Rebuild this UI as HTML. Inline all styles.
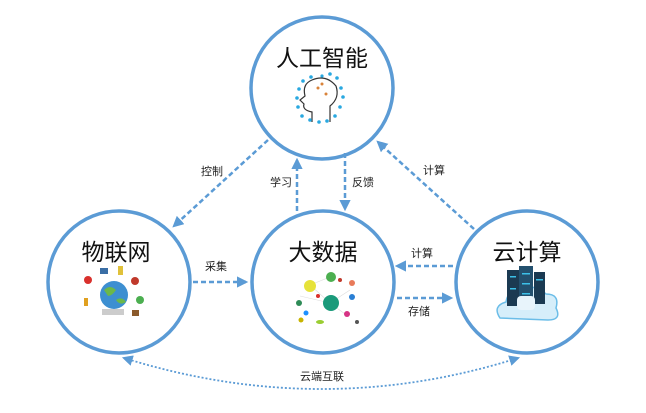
<!DOCTYPE html>
<html><head><meta charset="utf-8"><style>
html,body{margin:0;padding:0;background:#fff;}
svg{display:block;font-family:"Liberation Sans","Noto Sans CJK SC",sans-serif;}
</style></head><body>
<svg width="646" height="413" viewBox="0 0 646 413" xmlns="http://www.w3.org/2000/svg">
<defs>
<marker id="ah" viewBox="0 0 10 10" refX="8" refY="5" markerWidth="4.5" markerHeight="4.5" orient="auto-start-reverse"><path d="M0,0 L10,5 L0,10 z" fill="#5b9bd5"/></marker>
<marker id="ah2" viewBox="0 0 10 10" refX="8" refY="5" markerWidth="6" markerHeight="6" orient="auto-start-reverse"><path d="M0,0 L10,5 L0,10 z" fill="#5b9bd5"/></marker>
</defs>
<g fill="#fff" stroke="#5b9bd5" stroke-width="3.5">
<circle cx="322" cy="88" r="71"/>
<circle cx="119" cy="282" r="71"/>
<circle cx="323" cy="282" r="71"/>
<circle cx="527" cy="282" r="71"/>
</g>
<g stroke="#5b9bd5" stroke-width="2.5" stroke-dasharray="5,3" fill="none" marker-end="url(#ah)">
<line x1="268" y1="140" x2="174" y2="226"/>
<line x1="297" y1="211" x2="297" y2="160"/>
<line x1="345" y1="153" x2="345" y2="209"/>
<line x1="474" y1="229" x2="378" y2="142"/>
<line x1="193" y1="282" x2="246" y2="282"/>
<line x1="453" y1="266" x2="397" y2="266"/>
<line x1="397" y1="298" x2="451" y2="298"/>
</g>
<path d="M124,358 Q322,420 518,358" stroke="#5b9bd5" stroke-width="1.8" stroke-dasharray="2,2" fill="none" marker-start="url(#ah2)" marker-end="url(#ah2)"/>
<g font-size="23" fill="#111" text-anchor="middle">
<text x="322" y="66">人工智能</text>
<text x="116" y="260">物联网</text>
<text x="323" y="260">大数据</text>
<text x="527" y="260">云计算</text>
</g>
<g font-size="11" fill="#222" text-anchor="middle">
<text x="212" y="175">控制</text>
<text x="281" y="186">学习</text>
<text x="363" y="186">反馈</text>
<text x="434" y="174">计算</text>
<text x="216" y="270">采集</text>
<text x="422" y="257">计算</text>
<text x="419" y="315">存储</text>
<text x="322" y="380">云端互联</text>
</g>
<!-- AI icon -->
<g fill="none" stroke="#333" stroke-width="1.2">
<path d="M312,122 L312,112 Q302,110 304,104 L300,100 L305,96 Q302,84 312,80 Q326,74 336,86 Q340,98 330,106 L330,122"/>
</g>
<g fill="#d9833a"><circle cx="318" cy="88" r="1.5"/><circle cx="326" cy="94" r="1.5"/><circle cx="322" cy="84" r="1.5"/></g>
<g fill="#29a8e0">
<circle cx="322" cy="76" r="1.6"/><circle cx="330" cy="74" r="1.8"/><circle cx="337" cy="78" r="1.8"/><circle cx="341" cy="88" r="1.8"/><circle cx="343" cy="97" r="1.8"/><circle cx="340" cy="107" r="1.8"/><circle cx="335" cy="116" r="1.8"/><circle cx="327" cy="121" r="1.8"/><circle cx="319" cy="122" r="1.8"/><circle cx="310" cy="120" r="1.8"/><circle cx="302" cy="116" r="1.8"/><circle cx="298" cy="107" r="1.8"/><circle cx="297" cy="98" r="1.8"/><circle cx="299" cy="89" r="1.8"/><circle cx="303" cy="81" r="1.8"/><circle cx="311" cy="77" r="1.8"/>
</g>
<!-- IoT icon -->
<circle cx="114" cy="295" r="14" fill="#3d8fd1"/>
<path d="M104,290 q6,-6 12,0 q-4,6 -8,6z M116,300 q6,-4 10,2 q-6,4 -10,-2z" fill="#6bb84a"/>
<rect x="102" y="309" width="22" height="6" fill="#ccc"/>
<circle cx="88" cy="280" r="4" fill="#d9302c"/><rect x="100" y="268" width="8" height="6" fill="#3a6ea5"/><rect x="118" y="266" width="5" height="9" fill="#e0c13a"/>
<circle cx="135" cy="281" r="4" fill="#c0392b"/><circle cx="140" cy="300" r="4" fill="#4caf50"/><rect x="132" y="310" width="7" height="6" fill="#8b5a2b"/><rect x="84" y="298" width="4" height="8" fill="#e0a020"/>
<!-- Big data icon -->
<g stroke="#ddd" stroke-width="0.6"><line x1="300" y1="296" x2="330" y2="303"/><line x1="310" y1="285" x2="330" y2="303"/><line x1="330" y1="303" x2="350" y2="290"/><line x1="330" y1="303" x2="345" y2="314"/><line x1="330" y1="277" x2="310" y2="285"/></g>
<circle cx="331" cy="303" r="8" fill="#1a9a7a"/><circle cx="310" cy="286" r="6" fill="#e6e23a"/><circle cx="331" cy="277" r="5" fill="#4caf50"/>
<circle cx="352" cy="283" r="3" fill="#e87a5a"/><circle cx="352" cy="297" r="3" fill="#2a7fd4"/><circle cx="347" cy="314" r="3" fill="#d63384"/><circle cx="299" cy="303" r="3" fill="#2e8b57"/><circle cx="306" cy="313" r="2.5" fill="#1e90ff"/><circle cx="301" cy="320" r="2.5" fill="#c8b400"/><circle cx="340" cy="280" r="2" fill="#c0392b"/><circle cx="357" cy="322" r="2" fill="#555"/><circle cx="318" cy="296" r="2" fill="#d9302c"/><ellipse cx="320" cy="322" rx="4" ry="2" fill="#9acd32"/>
<!-- Cloud icon -->
<path d="M500,318 q-8,-12 6,-16 q2,-14 18,-10 q10,-10 22,2 q14,0 10,14 q6,12 -8,12 z" fill="#d6eefa" stroke="#6bbde8" stroke-width="1.5"/>
<rect x="507" y="270" width="12" height="36" fill="#1b3a52"/><rect x="519" y="266" width="14" height="42" fill="#23506e"/><rect x="534" y="272" width="11" height="32" fill="#1b3a52"/>
<g fill="#3cc0e8"><rect x="510" y="276" width="6" height="1.5"/><rect x="522" y="273" width="8" height="1.5"/><rect x="536" y="279" width="7" height="1.5"/><rect x="522" y="283" width="8" height="1.5"/><rect x="510" y="288" width="6" height="1.5"/><rect x="522" y="293" width="8" height="1.5"/></g>
<rect x="517" y="296" width="18" height="14" rx="4" fill="#e8f4fb"/>
</svg>
</body></html>
